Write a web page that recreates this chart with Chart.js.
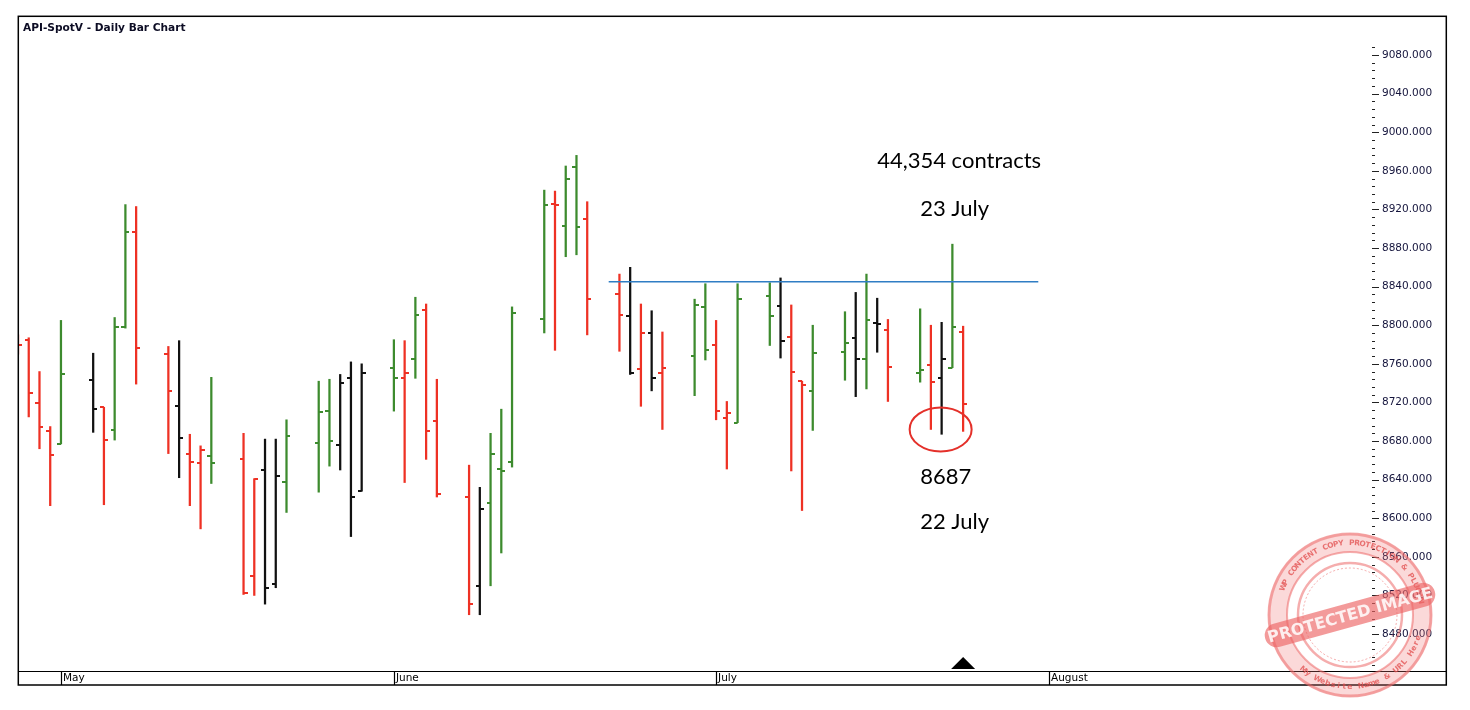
<!DOCTYPE html>
<html>
<head>
<meta charset="utf-8">
<title>API-SpotV - Daily Bar Chart</title>
<script src="https://cdn.jsdelivr.net/npm/chart.js@4.4.1/dist/chart.umd.min.js"></script>
<style>
  html, body { margin: 0; padding: 0; background: #fff; }
  #wrap { width: 1470px; height: 710px; position: relative; }
</style>
</head>
<body>
<div id="wrap"><canvas id="myChart"></canvas></div>
<script>
// DATOS DEL GRAFICO (barras diarias 2020)
const dates = [
  '2020-04-27', '2020-04-28', '2020-04-29', '2020-04-30', '2020-05-01',
  '2020-05-04', '2020-05-05', '2020-05-06', '2020-05-07', '2020-05-08',
  '2020-05-11', '2020-05-12', '2020-05-13', '2020-05-14', '2020-05-15',
  '2020-05-18', '2020-05-19', '2020-05-20', '2020-05-21', '2020-05-22',
  '2020-05-25', '2020-05-26', '2020-05-27', '2020-05-28', '2020-05-29',
  '2020-06-01', '2020-06-02', '2020-06-03', '2020-06-04', '2020-06-05',
  '2020-06-08', '2020-06-09', '2020-06-10', '2020-06-11', '2020-06-12',
  '2020-06-15', '2020-06-16', '2020-06-17', '2020-06-18', '2020-06-19',
  '2020-06-22', '2020-06-23', '2020-06-24', '2020-06-25', '2020-06-26',
  '2020-06-29', '2020-06-30', '2020-07-01', '2020-07-02', '2020-07-03',
  '2020-07-06', '2020-07-07', '2020-07-08', '2020-07-09', '2020-07-10',
  '2020-07-13', '2020-07-14', '2020-07-15', '2020-07-16', '2020-07-17',
  '2020-07-20', '2020-07-21', '2020-07-22', '2020-07-23', '2020-07-24'
];
const open = [
  8785, 8785, 8719, 8690, 8677,
  8743, 8715, 8691, 8798, 8897,
  8770, 8716, 8667, 8657, 8664,
  8661, 8540, 8650, 8532, 8638,
  8678, 8711, 8676, 8745, 8628,
  8756, 8745, 8765, 8816, 8701,
  8622, 8530, 8616, 8651, 8658,
  8806, 8926, 8903, 8964, 8910,
  8832, 8810, 8755, 8792, 8751,
  8768, 8819, 8779, 8704, 8699,
  8830, 8820, 8788, 8742, 8732,
  8772, 8787, 8765, 8802, 8795,
  8751, 8759, 8745, 8756, 8793
];
const high = [
  8790, 8787, 8752, 8695, 8805,
  8771, 8715, 8808, 8925, 8923,
  8778, 8784, 8687, 8675, 8746,
  8688, 8641, 8682, 8682, 8702,
  8742, 8744, 8749, 8762, 8760,
  8785, 8784, 8829, 8822, 8744,
  8655, 8632, 8688, 8713, 8819,
  8940, 8939, 8965, 8976, 8928,
  8853, 8860, 8822, 8815, 8793,
  8827, 8843, 8805, 8721, 8843,
  8844, 8849, 8821, 8742, 8800,
  8814, 8834, 8853, 8828, 8806,
  8817, 8800, 8803, 8884, 8799
];
const low = [
  8770, 8705, 8672, 8613, 8677,
  8689, 8614, 8681, 8797, 8739,
  8667, 8642, 8613, 8589, 8636,
  8521, 8520, 8511, 8528, 8606,
  8627, 8654, 8650, 8581, 8628,
  8711, 8637, 8745, 8661, 8622,
  8500, 8500, 8530, 8564, 8653,
  8792, 8774, 8871, 8873, 8790,
  8773, 8749, 8716, 8732, 8692,
  8727, 8764, 8702, 8651, 8699,
  8779, 8766, 8649, 8608, 8691,
  8743, 8726, 8734, 8772, 8721,
  8741, 8692, 8687, 8756, 8690
];
const close = [
  8780, 8730, 8695, 8666, 8749,
  8713, 8681, 8798, 8897, 8776,
  8732, 8683, 8658, 8671, 8657,
  8523, 8641, 8528, 8644, 8685,
  8710, 8680, 8740, 8622, 8750,
  8745, 8751, 8811, 8690, 8625,
  8511, 8610, 8667, 8649, 8813,
  8925, 8925, 8952, 8902, 8827,
  8811, 8751, 8792, 8745, 8756,
  8821, 8774, 8711, 8709, 8827,
  8810, 8784, 8752, 8738, 8771,
  8782, 8765, 8805, 8801, 8757,
  8754, 8741, 8765, 8798, 8718
];
// 1 = sube, -1 = baja, 0 = neutro
const trend = [
  -1, -1, -1, -1, 1,
  0, -1, 1, 1, -1,
  -1, 0, -1, -1, 1,
  -1, -1, 0, 0, 1,
  1, 1, 0, 0, 0,
  1, -1, 1, -1, -1,
  -1, 0, 1, 1, 1,
  1, -1, 1, 1, -1,
  -1, 0, -1, 0, -1,
  1, 1, -1, -1, 1,
  1, 0, -1, -1, 1,
  1, 0, 1, 0, -1,
  1, -1, 0, 1, -1
];
const monthStarts = ['2020-05-01', '2020-06-01', '2020-07-01', '2020-08-01'];
const monthNames = ['May', 'June', 'July', 'August'];
const yTicks = [8480, 8520, 8560, 8600, 8640, 8680, 8720, 8760, 8800, 8840, 8880, 8920, 8960, 9000, 9040, 9080];
const levelDates = ['2020-06-21', '2020-07-31'];
const levelValue = 8845;
const notes = [
  { text: '44,354 contracts', date: '2020-07-16', value: 8970 },
  { text: '23 July', date: '2020-07-20', value: 8921 },
  { text: '8687', date: '2020-07-20', value: 8643 },
  { text: '22 July', date: '2020-07-20', value: 8596 }
];
const circled = { date: '2020-07-22', value: 8692 };
const markerDate = '2020-07-24';

const base = Date.UTC(2020, 4, 1);
const dayOf = s => (Date.parse(s) - base) / 86400000;

const colores = { '1': '#3d8b2e', '-1': '#ee3124', '0': '#111111' };

// marcas de apertura / cierre como imagen
function tickImg(color, lado) {
  const c = document.createElement('canvas');
  c.width = 8; c.height = 2;
  const g = c.getContext('2d');
  g.fillStyle = color;
  g.fillRect(lado === 'open' ? 0 : 4, 0, 4, 2);
  return c;
}
const openImg = {}, closeImg = {};
Object.keys(colores).forEach(k => {
  openImg[k] = tickImg(colores[k], 'open');
  closeImg[k] = tickImg(colores[k], 'close');
});

const rangos = dates.map((d, i) => ({ x: dayOf(d), y: [low[i], high[i]] }));
const aperturas = dates.map((d, i) => ({ x: dayOf(d), y: open[i] }));
const cierres = dates.map((d, i) => ({ x: dayOf(d), y: close[i] }));
const nivel = levelDates.map(d => ({ x: dayOf(d), y: levelValue }));

// texto en arco para el sello
function textoEnArco(ctx, texto, radio, angCentro, paso, arriba) {
  const n = texto.length;
  for (let i = 0; i < n; i++) {
    const k = i - (n - 1) / 2;
    const ang = angCentro + (arriba ? k : -k) * paso;
    ctx.save();
    ctx.rotate(ang);
    ctx.translate(radio, 0);
    ctx.rotate(arriba ? Math.PI / 2 : -Math.PI / 2);
    ctx.fillText(texto[i], 0, 0);
    ctx.restore();
  }
}

const dibujos = {
  id: 'dibujos',
  beforeDraw(chart) {
    const ctx = chart.ctx;
    ctx.save();
    ctx.fillStyle = '#fff';
    ctx.fillRect(0, 0, chart.width, chart.height);
    ctx.restore();
  },
  afterDraw(chart) {
    const ctx = chart.ctx;
    const a = chart.chartArea;
    const xs = chart.scales.x, ys = chart.scales.y;
    ctx.save();

    // marco
    ctx.strokeStyle = '#000';
    ctx.lineWidth = 1.5;
    ctx.strokeRect(18.3, 16.3, 1428, 668.7);
    ctx.beginPath();
    ctx.moveTo(18, a.bottom + 0.5); ctx.lineTo(1446, a.bottom + 0.5);
    monthStarts.forEach(d => {
      const px = Math.round(xs.getPixelForValue(dayOf(d))) + 0.5;
      ctx.moveTo(px, a.bottom); ctx.lineTo(px, 685);
    });
    ctx.lineWidth = 1.2;
    ctx.stroke();

    // rayitas del eje de precios
    ctx.strokeStyle = '#222';
    ctx.lineWidth = 1;
    ctx.beginPath();
    for (let v = 8448; v <= 9088; v += 8) {
      const py = Math.round(ys.getPixelForValue(v)) + 0.5;
      const largo = v % 40 === 0 ? 7 : 3;
      ctx.moveTo(a.right + 7, py); ctx.lineTo(a.right + 7 + largo, py);
    }
    ctx.stroke();

    // titulo
    ctx.fillStyle = '#0c0c24';
    ctx.font = 'bold 10.6px "DejaVu Sans"';
    ctx.textBaseline = 'middle';
    ctx.textAlign = 'left';
    ctx.fillText('API-SpotV - Daily Bar Chart', 23, 28);

    // textos
    ctx.fillStyle = '#000';
    ctx.font = '22px Lato';
    notes.forEach(n => {
      ctx.fillText(n.text, xs.getPixelForValue(dayOf(n.date)), ys.getPixelForValue(n.value));
    });

    // circulo rojo
    ctx.strokeStyle = '#e4302a';
    ctx.lineWidth = 2;
    ctx.beginPath();
    ctx.ellipse(xs.getPixelForValue(dayOf(circled.date)) - 1, ys.getPixelForValue(circled.value), 31, 22, 0, 0, Math.PI * 2);
    ctx.stroke();

    // triangulo
    const tx = xs.getPixelForValue(dayOf(markerDate));
    ctx.fillStyle = '#000';
    ctx.beginPath();
    ctx.moveTo(tx, a.bottom - 14);
    ctx.lineTo(tx + 12, a.bottom - 2);
    ctx.lineTo(tx - 12, a.bottom - 2);
    ctx.closePath();
    ctx.fill();

    // sello
    ctx.translate(1350, 615);
    const rojo = 'rgba(236, 105, 105, 0.55)';
    ctx.fillStyle = 'rgba(240, 120, 120, 0.28)';
    ctx.beginPath();
    ctx.arc(0, 0, 82, 0, Math.PI * 2);
    ctx.arc(0, 0, 63, 0, Math.PI * 2, true);
    ctx.fill();
    ctx.strokeStyle = rojo;
    ctx.lineWidth = 3;
    ctx.beginPath(); ctx.arc(0, 0, 81, 0, Math.PI * 2); ctx.stroke();
    ctx.lineWidth = 2;
    ctx.beginPath(); ctx.arc(0, 0, 63, 0, Math.PI * 2); ctx.stroke();
    ctx.lineWidth = 2.5;
    ctx.beginPath(); ctx.arc(0, 0, 52, 0, Math.PI * 2); ctx.stroke();
    ctx.lineWidth = 1;
    ctx.setLineDash([2, 2]);
    ctx.beginPath(); ctx.arc(0, 0, 47, 0, Math.PI * 2); ctx.stroke();
    ctx.setLineDash([]);
    ctx.fillStyle = 'rgba(225, 75, 75, 0.75)';
    ctx.font = 'bold 7.5px "DejaVu Sans"';
    ctx.textAlign = 'center';
    ctx.textBaseline = 'middle';
    textoEnArco(ctx, 'WP CONTENT COPY PROTECTION & PLUGIN', 72, -Math.PI / 2 + 0.1, 0.075, true);
    textoEnArco(ctx, 'My Website Name & URL Here', 72, 1.3, 0.078, false);
    ctx.rotate(-0.27);
    ctx.fillStyle = 'rgba(236, 100, 100, 0.65)';
    ctx.beginPath();
    ctx.roundRect(-88, -12, 176, 24, 12);
    ctx.fill();
    ctx.fillStyle = 'rgba(255, 255, 255, 0.85)';
    ctx.font = 'bold 16px "DejaVu Sans"';
    ctx.fillText('PROTECTED IMAGE', 0, 1);
    ctx.restore();
  }
};

const ctx = document.getElementById('myChart');
new Chart(ctx, {
  type: 'bar',
  data: {
    datasets: [
      {
        type: 'line',
        data: nivel,
        borderColor: '#2f7dc4',
        borderWidth: 1.5,
        pointRadius: 0,
        order: 0
      },
      {
        type: 'scatter',
        data: aperturas,
        pointStyle: c => openImg[trend[c.dataIndex]],
        pointRadius: 3,
        clip: 0,
        order: 1
      },
      {
        type: 'scatter',
        data: cierres,
        pointStyle: c => closeImg[trend[c.dataIndex]],
        pointRadius: 3,
        clip: 0,
        order: 1
      },
      {
        type: 'bar',
        data: rangos,
        backgroundColor: trend.map(t => colores[t]),
        borderWidth: 0,
        barThickness: 1.6,
        grouped: false,
        order: 2
      }
    ]
  },
  options: {
    responsive: true,
    maintainAspectRatio: false,
    animation: false,
    events: [],
    layout: { padding: { top: 17, left: 18, right: 24, bottom: 25 } },
    plugins: { legend: { display: false }, tooltip: { enabled: false } },
    scales: {
      x: {
        type: 'linear',
        position: 'bottom',
        min: -4,
        max: 121.42,
        offset: false,
        grid: { display: false, drawTicks: false },
        border: { display: false },
        afterBuildTicks: s => { s.ticks = monthStarts.map(d => ({ value: dayOf(d) })); },
        afterFit: s => { s.height = 14; },
        ticks: {
          align: 'start',
          labelOffset: 2,
          padding: 1,
          autoSkip: false,
          maxRotation: 0,
          color: '#000',
          font: { family: 'DejaVu Sans', size: 10.5 },
          callback: (v, i) => monthNames[i]
        }
      },
      y: {
        type: 'linear',
        position: 'right',
        min: 8441.7,
        max: 9119.4,
        grid: { display: true, drawOnChartArea: false, drawTicks: true, tickLength: 17, tickColor: 'rgba(0,0,0,0)' },
        border: { display: false },
        afterBuildTicks: s => { s.ticks = yTicks.map(v => ({ value: v })); },
        afterFit: s => { s.width = 81; },
        ticks: {
          padding: 0,
          color: '#14143c',
          font: { family: 'DejaVu Sans', size: 10.5 },
          callback: v => v.toFixed(3)
        }
      }
    }
  },
  plugins: [dibujos]
});
</script>
</body>
</html>
